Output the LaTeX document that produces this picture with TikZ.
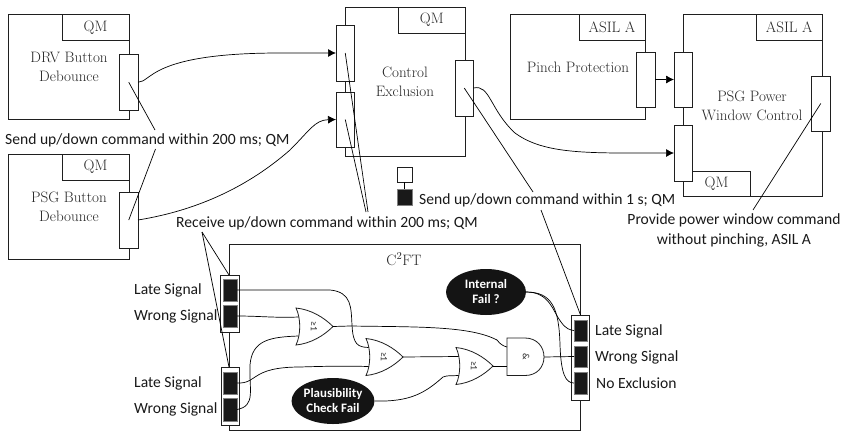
\documentclass[tikz,border=0pt]{standalone}
\usepackage{fontspec}
\newfontfamily\calfont{Carlito}
\usetikzlibrary{arrows.meta,shapes.geometric}
\definecolor{ink}{gray}{0.12}
\tikzset{
  box/.style={draw=ink,line width=0.8pt,fill=white,inner sep=0pt,align=center},
  port/.style={box},
  blackport/.style={draw=black!50,line width=0.6pt,fill=black!90,inner sep=0pt},
  serif/.style={font=\fontsize{15.1}{19}\selectfont,align=center,text=black!85,inner sep=0pt},
  label/.style={font=\calfont\fontsize{15.6}{20}\selectfont,align=center,text=black!90,inner sep=0pt},
  event/.style={draw=none,fill=black!92,ellipse,text=white,font=\calfont\bfseries\fontsize{12.9}{15}\selectfont,align=center,inner sep=0pt,minimum width=80pt,minimum height=46pt},
  wire/.style={draw=black,line width=0.7pt},
  arrowwire/.style={wire,-{Latex[length=8pt,width=8pt]}},
  leader/.style={draw=black,line width=0.7pt},
  gate/.style={draw=ink,line width=0.8pt,fill=white},
  gatetext/.style={font=\calfont\fontsize{9.5}{10}\selectfont,rotate=-90,inner sep=0pt,text=black!85},
}
% name, style, x1, y1, x2, y2, text
\newcommand{\rectnode}[7]{%
  \pgfmathsetmacro{\rcx}{(#3+#5)/2}\pgfmathsetmacro{\rcy}{(#4+#6)/2}%
  \pgfmathsetmacro{\rw}{#5-#3}\pgfmathsetmacro{\rh}{#6-#4}%
  \node[#2,minimum width=\rw pt,minimum height=\rh pt,outer sep=0pt] (#1) at (\rcx,\rcy) {#7};}
\newcommand{\orgate}[3]{%
  \begin{scope}[shift={(#2,#3)}]
    \draw[gate] (0,-18.5) .. controls (15,-17) and (28,-9) .. (37,0) .. controls (28,9) and (15,17) .. (0,18.5) .. controls (5,8) and (5,-8) .. (0,-18.5) -- cycle;
    \node[gatetext] (#1) at (18,0) {≥1};
    \coordinate (#1-a) at (2.5,-9.5);
    \coordinate (#1-b) at (2.5,9.5);
    \coordinate (#1-o) at (37,0);
  \end{scope}}
\begin{document}
\begin{tikzpicture}[x=1pt,y=-1pt]
\useasboundingbox (0,0) rectangle (842,431);
% components
\rectnode{drv}{box,serif}{8.5}{14.5}{129}{119}{}
\node[serif] (drvt) at (69,67) {DRV Button\\Debounce};
\rectnode{drvq}{box,serif}{62}{14.5}{129}{40.5}{QM}
\rectnode{drvp}{port}{119.5}{54.5}{138}{110}{}
\rectnode{psg}{box,serif}{8.5}{154}{129}{259}{}
\node[serif] (psgt) at (69,207) {PSG Button\\Debounce};
\rectnode{psgq}{box,serif}{62}{154}{129}{180}{QM}
\rectnode{psgp}{port}{119.5}{192}{138}{248}{}
\rectnode{ctl}{box,serif}{345}{7}{465}{156}{}
\node[serif] (ctlt) at (405,82) {Control\\Exclusion};
\rectnode{ctlq}{box,serif}{398.5}{7}{465}{33}{QM}
\rectnode{ctla}{port}{336}{25}{354.5}{81}{}
\rectnode{ctlb}{port}{336}{92}{354.5}{147}{}
\rectnode{ctlo}{port}{455}{60}{473.5}{116}{}
\rectnode{pin}{box,serif}{510}{14.5}{645}{119}{}
\node[serif] (pint) at (578,67) {Pinch Protection};
\rectnode{pinq}{box,serif}{579}{14.5}{645}{40.5}{ASIL A}
\rectnode{pinp}{port}{636}{52}{655}{107}{}
\rectnode{pow}{box,serif}{683}{14.5}{822.5}{196}{}
\node[serif] (powt) at (752,106) {PSG Power\\Window Control};
\rectnode{powq}{box,serif}{756}{14.5}{822.5}{40.5}{ASIL A}
\rectnode{powr}{box,serif}{683}{171}{750}{196}{QM}
\rectnode{powa}{port}{674}{52}{692.5}{107}{}
\rectnode{powb}{port}{674}{125}{692.5}{181}{}
\rectnode{powo}{port}{811.5}{76}{830}{131}{}
% legend
\rectnode{lega}{box}{397}{167}{412.5}{182}{}
\rectnode{legb}{blackport}{397}{189}{412.5}{205}{}
\draw[wire] (lega) -- (legb);
% C2FT frame
\rectnode{cft}{box}{229}{244}{580.5}{430}{}
\node[serif] (cftt) at (404,259) {C\textsuperscript{2}FT};
\rectnode{lp}{port}{220.5}{275}{239}{332}{}
\rectnode{l1}{blackport}{223}{279}{237}{301}{}
\rectnode{l2}{blackport}{223}{305}{237}{327}{}
\rectnode{bp}{port}{221}{367}{239}{425}{}
\rectnode{b1}{blackport}{223}{372}{237}{394}{}
\rectnode{b2}{blackport}{223}{398}{237}{421}{}
\rectnode{rp}{port}{571.5}{315}{589.5}{400}{}
\rectnode{r1}{blackport}{574}{320}{587.5}{341}{}
\rectnode{r2}{blackport}{574}{346}{587.5}{367}{}
\rectnode{r3}{blackport}{574}{372}{587.5}{394}{}
% gates
\orgate{ga}{296}{326.5}
\orgate{gb}{366}{357}
\orgate{gc}{456}{366}
\draw[gate] (507,338) -- (525,338) .. controls (537,338) and (544,347) .. (544,357) .. controls (544,367) and (537,375.5) .. (525,375.5) -- (507,375.5) -- cycle;
\node[gatetext] (gd) at (526,357) {\&};
\coordinate (gd-a) at (507,347);
\coordinate (gd-b) at (507,366);
\coordinate (gd-o) at (544,357);
% events
\node[event] (ev1) at (486,292) {Internal\\Fail ?};
\node[event] (ev2) at (333,401) {Plausibility\\Check Fail};
% wires in C2FT
\draw[wire] (l1.east) -- (330,290) .. controls (352,292) and (351,308) .. (352,325) .. controls (353,345) and (358,347) .. (gb-a);
\draw[wire] (l2.east) .. controls (260,316) and (275,318) .. (ga-a);
\draw[wire] (ga-o) -- (350,326) .. controls (420,327) and (470,326) .. (497,340) .. controls (500,344) and (503,346) .. (gd-a);
\draw[wire] (b1.east) .. controls (258,384) and (250,367) .. (300,367) .. controls (330,366) and (350,366) .. (gb-b);
\draw[wire] (b2.east) .. controls (256,406) and (249,390) .. (250,365) .. controls (252,340) and (270,337) .. (ga-b);
\draw[wire] (gb-o) -- (gc-a);
\draw[wire] (ev2.east) .. controls (410,402) and (425,393) .. (443,377) .. controls (448,375) and (452,376) .. (gc-b);
\draw[wire] (gc-o) -- (gd-b);
\draw[wire] (gd-o) -- (r2.west);
\draw[wire] (ev1.east) .. controls (550,292) and (553,312) .. (561,322) .. controls (566,329) and (570,330) .. (r1.west);
\draw[wire] (ev1.east) .. controls (552,292) and (559,308) .. (560,345) .. controls (561,375) and (566,383) .. (r3.west);
% top connectors
\draw[arrowwire] (drvp.east) .. controls (152,82) and (150,53) .. (280,53) -- (ctla.west);
\draw[arrowwire] (psgp.east) .. controls (200,210) and (250,185) .. (290,150) .. controls (310,130) and (315,120) .. (ctlb.west);
\draw[arrowwire] (ctlo.east) .. controls (490,84) and (490,110) .. (515,133) .. controls (545,155) and (590,153) .. (powb.west);
\draw[arrowwire] (pinp.east) -- (powa.west);
% labels
\node[label,anchor=west] (send) at (5,140) {Send up/down command within 200 ms; QM};
\node[label,anchor=west] (send1) at (419,200) {Send up/down command within 1 s; QM};
\node[label,anchor=west] (recv) at (176,223) {Receive up/down command within 200 ms; QM};
\node[label] (prov) at (734,230) {Provide power window command\\without pinching, ASIL A};
\node[label,anchor=west] (t1) at (134,290) {Late Signal};
\node[label,anchor=west] (t2) at (134,316) {Wrong Signal};
\node[label,anchor=west] (t3) at (134,383) {Late Signal};
\node[label,anchor=west] (t4) at (134,409) {Wrong Signal};
\node[label,anchor=west] (t5) at (595,331) {Late Signal};
\node[label,anchor=west] (t6) at (595,357) {Wrong Signal};
\node[label,anchor=west] (t7) at (596,383) {No Exclusion};
% leaders
\coordinate (sa) at (155,130);
\coordinate (sb) at (155.5,149);
\coordinate (ra) at (368,212);
\coordinate (rb) at (366,212);
\coordinate (rc) at (202,232);
\coordinate (ua) at (533,192);
\coordinate (ub) at (541,210);
\coordinate (pa) at (753,210);
\draw[leader] (drvp.center) -- (sa);
\draw[leader] (sb) -- (psgp.center);
\draw[leader] (ctla.center) -- (ra);
\draw[leader] (ctlb.center) -- (rb);
\draw[leader] (rc) -- (lp.north -| cft.west);
\draw[leader] (rc) -- (bp.north -| cft.west);
\draw[leader] (ctlo.center) -- (ua);
\draw[leader] (ub) -- (rp.north -| cft.east);
\draw[leader] (powo.center) -- (pa);
\end{tikzpicture}
\end{document}
